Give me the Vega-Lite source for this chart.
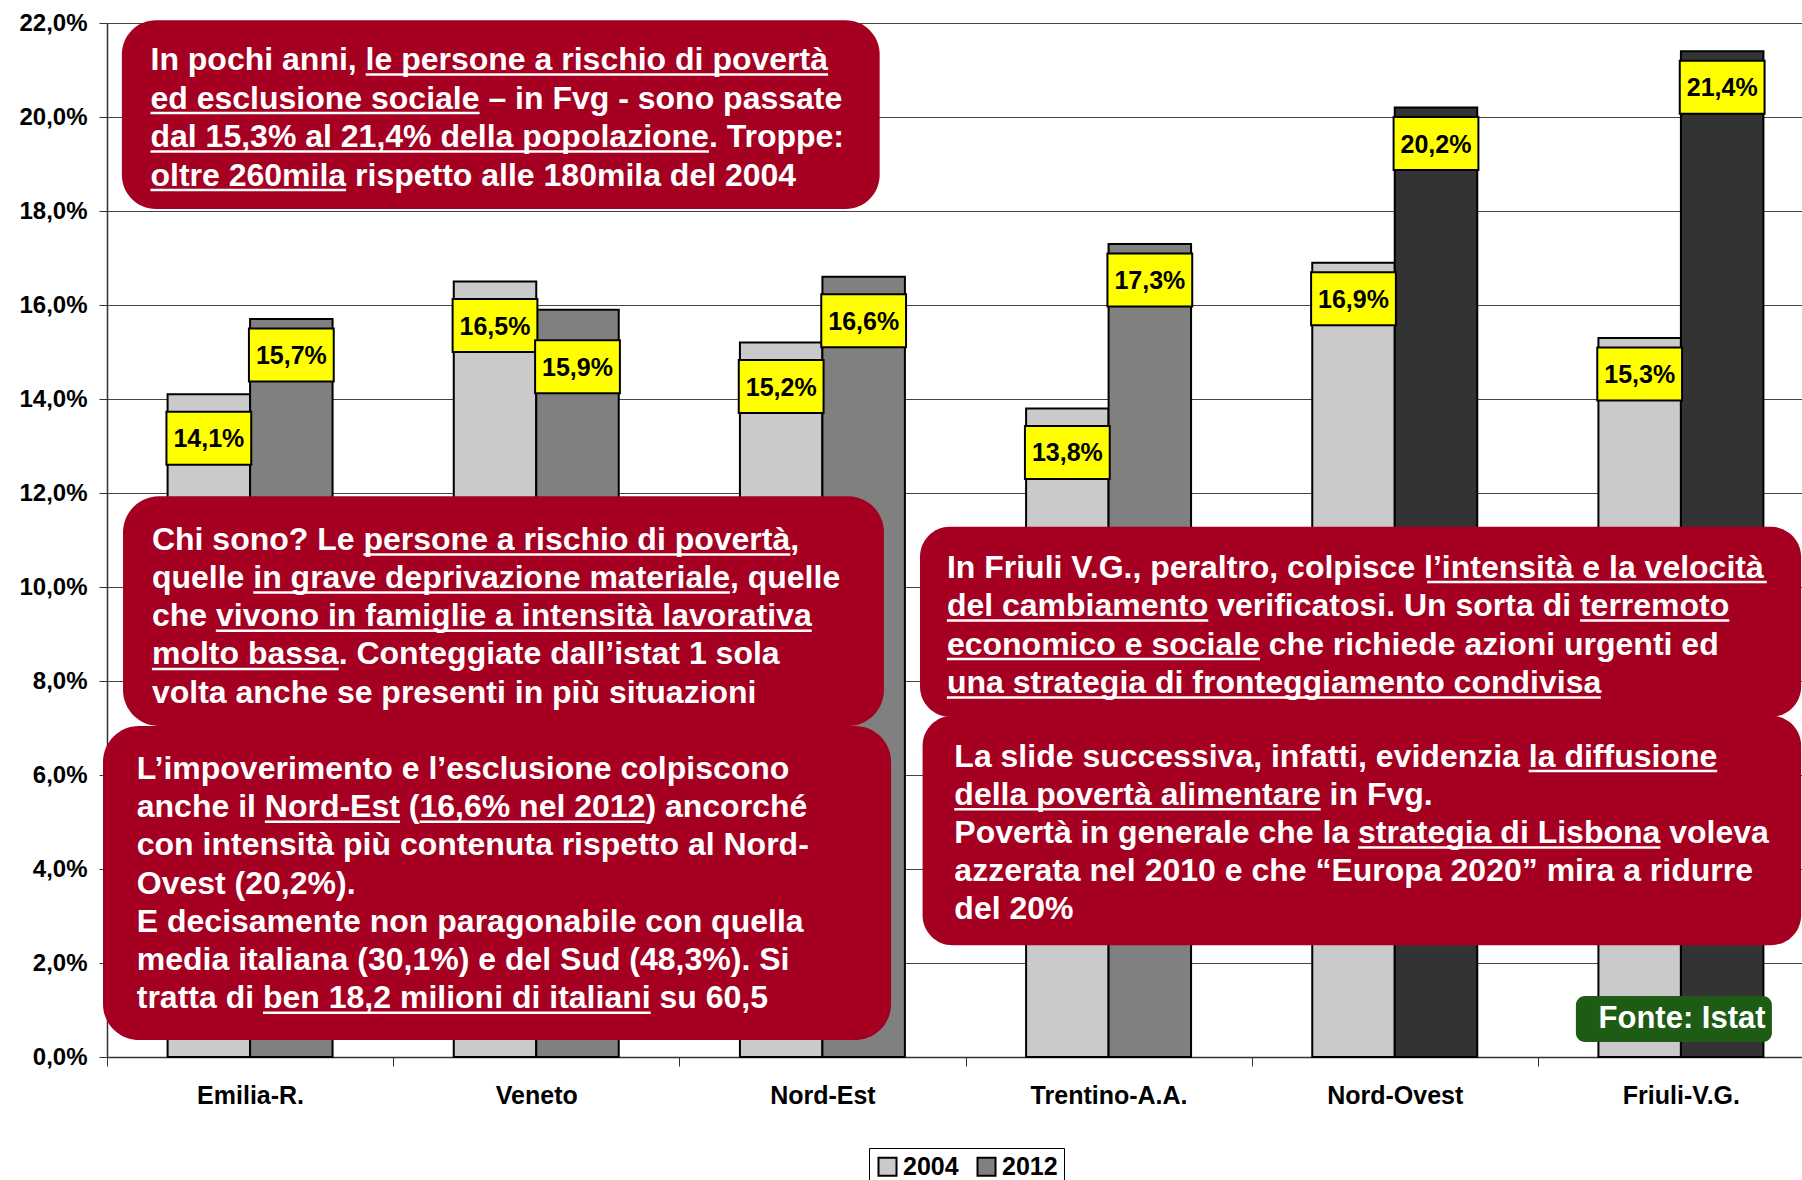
{
  "$schema": "https://vega.github.io/schema/vega-lite/v6.json",
  "width": 1695,
  "height": 1034,
  "autosize": {"type": "none"},
  "padding": {"left": 107, "top": 23, "right": 0, "bottom": 123},
  "background": "white",
  "config": {
    "locale": {"number": {"decimal": ",", "thousands": ".", "grouping": [3], "currency": ["€", ""]}},
    "font": "Liberation Sans",
    "view": {"stroke": null},
    "rule": {"color": "white", "strokeWidth": 2.5, "strokeCap": "butt"}
  },
  "datasets": {
    "bars": [
      {"region": "Emilia-R.", "year": "2004", "value": 0.141},
      {"region": "Emilia-R.", "year": "2012", "value": 0.157},
      {"region": "Veneto", "year": "2004", "value": 0.165},
      {"region": "Veneto", "year": "2012", "value": 0.159},
      {"region": "Nord-Est", "year": "2004", "value": 0.152},
      {"region": "Nord-Est", "year": "2012", "value": 0.166},
      {"region": "Trentino-A.A.", "year": "2004", "value": 0.138},
      {"region": "Trentino-A.A.", "year": "2012", "value": 0.173},
      {"region": "Nord-Ovest", "year": "2004", "value": 0.169},
      {"region": "Nord-Ovest", "year": "2012", "value": 0.202},
      {"region": "Friuli-V.G.", "year": "2004", "value": 0.153},
      {"region": "Friuli-V.G.", "year": "2012", "value": 0.214}
    ]
  },
  "layer": [
    {
      "data": {"name": "bars"},
      "encoding": {
        "x": {
          "field": "region", "type": "nominal",
          "sort": ["Emilia-R.", "Veneto", "Nord-Est", "Trentino-A.A.", "Nord-Ovest", "Friuli-V.G."],
          "scale": {"range": [0, 1717], "paddingInner": 0, "paddingOuter": 0},
          "axis": {"title": null, "labelFontSize": 25, "labelFontWeight": "bold", "labelColor": "black", "labelAngle": 0, "tickBand": "extent", "tickSize": 9, "tickColor": "#333333", "domainColor": "#333333", "domainWidth": 1.5, "labelPadding": 17, "grid": false}
        },
        "xOffset": {"field": "year", "type": "nominal", "scale": {"paddingOuter": 0.7345, "paddingInner": 0}},
        "y": {
          "field": "value", "type": "quantitative",
          "scale": {"domain": [0, 0.22], "nice": false},
          "axis": {"title": null, "format": ".1%", "values": [0, 0.02, 0.04, 0.06, 0.08, 0.1, 0.12, 0.14, 0.16, 0.18, 0.2, 0.22], "labelFontSize": 24, "labelFontWeight": "bold", "labelColor": "black", "tickSize": 8, "labelPadding": 12, "gridColor": "#444444", "gridWidth": 1.2, "domainColor": "#333333", "domainWidth": 1.5, "tickColor": "#333333"}
        }
      },
      "layer": [
        {
          "mark": {"type": "bar", "stroke": "black", "strokeWidth": 2},
          "encoding": {
            "fill": {
              "field": "year", "type": "nominal",
              "scale": {"domain": ["2004", "2012"], "range": ["#cacaca", "#808080"]},
              "legend": {"title": null, "orient": "none", "legendX": 762, "legendY": 1125, "direction": "horizontal", "strokeColor": "black", "fillColor": "white", "padding": 6, "symbolType": "square", "symbolSize": 324, "symbolStrokeColor": "black", "symbolStrokeWidth": 2, "labelFontSize": 25, "labelFontWeight": "bold", "labelColor": "black", "columnPadding": 14, "labelOffset": 3},
              "condition": {"test": "datum.year == '2012' && (datum.region == 'Nord-Ovest' || datum.region == 'Friuli-V.G.')", "value": "#333333"}
            }
          }
        },
        {
          "transform": [{"filter": "(datum.year == '2004' && datum.region != 'Nord-Ovest' && datum.region != 'Friuli-V.G.') || datum.region == 'Nord-Est'"}],
          "layer": [
            {"mark": {"type": "point", "shape": "M-1.6,-1L1.6,-1L1.6,1L-1.6,1Z", "size": 2809, "filled": true, "fill": "#ffff00", "stroke": "black", "strokeWidth": 2, "opacity": 1, "yOffset": 44}},
            {"mark": {"type": "text", "fontSize": 25, "fontWeight": "bold", "color": "black", "align": "center", "baseline": "middle", "yOffset": 45}, "encoding": {"text": {"field": "value", "type": "quantitative", "format": ".1%"}}}
          ]
        },
        {
          "transform": [{"filter": "!((datum.year == '2004' && datum.region != 'Nord-Ovest' && datum.region != 'Friuli-V.G.') || datum.region == 'Nord-Est') && !(datum.region == 'Veneto' && datum.year == '2012')"}],
          "layer": [
            {"mark": {"type": "point", "shape": "M-1.6,-1L1.6,-1L1.6,1L-1.6,1Z", "size": 2809, "filled": true, "fill": "#ffff00", "stroke": "black", "strokeWidth": 2, "opacity": 1, "yOffset": 36}},
            {"mark": {"type": "text", "fontSize": 25, "fontWeight": "bold", "color": "black", "align": "center", "baseline": "middle", "yOffset": 37}, "encoding": {"text": {"field": "value", "type": "quantitative", "format": ".1%"}}}
          ]
        },
        {
          "transform": [{"filter": "datum.region == 'Veneto' && datum.year == '2012'"}],
          "layer": [
            {"mark": {"type": "point", "shape": "M-1.6,-1L1.6,-1L1.6,1L-1.6,1Z", "size": 2809, "filled": true, "fill": "#ffff00", "stroke": "black", "strokeWidth": 2, "opacity": 1, "yOffset": 57}},
            {"mark": {"type": "text", "fontSize": 25, "fontWeight": "bold", "color": "black", "align": "center", "baseline": "middle", "yOffset": 58}, "encoding": {"text": {"field": "value", "type": "quantitative", "format": ".1%"}}}
          ]
        }
      ]
    },
    {
      "data": {"values": [{}]},
      "layer": [
        {
          "mark": {"type": "rect", "fill": "#a50021", "cornerRadius": 34},
          "encoding": {
            "x": {"datum": 0.052, "type": "quantitative", "scale": {"domain": [0, 6], "range": [0, 1717], "nice": false, "zero": false}, "axis": null},
            "x2": {"datum": 2.70},
            "y": {"datum": 0.2206, "type": "quantitative", "axis": null},
            "y2": {"datum": 0.1804}
          }
        },
        {
          "mark": {"type": "text", "fill": "white", "fontSize": 32, "fontWeight": "bold", "align": "left", "baseline": "alphabetic", "lineHeight": 38.5,
            "text": ["In pochi anni, le persone a rischio di povertà", "ed esclusione sociale – in Fvg - sono passate", "dal 15,3% al 21,4% della popolazione. Troppe:", "oltre 260mila rispetto alle 180mila del 2004"]},
          "encoding": {
            "x": {"datum": 0.152, "type": "quantitative", "axis": null},
            "y": {"datum": 0.21, "type": "quantitative", "axis": null}
          }
        },
        {"mark": "rule", "encoding": {"x": {"datum": 0.9040, "type": "quantitative", "axis": null}, "x2": {"datum": 2.5199}, "y": {"datum": 0.20904, "type": "quantitative", "axis": null}}},
        {"mark": "rule", "encoding": {"x": {"datum": 0.1520, "type": "quantitative", "axis": null}, "x2": {"datum": 1.3020}, "y": {"datum": 0.20085, "type": "quantitative", "axis": null}}},
        {"mark": "rule", "encoding": {"x": {"datum": 0.1520, "type": "quantitative", "axis": null}, "x2": {"datum": 2.1037}, "y": {"datum": 0.19266, "type": "quantitative", "axis": null}}},
        {"mark": "rule", "encoding": {"x": {"datum": 0.1520, "type": "quantitative", "axis": null}, "x2": {"datum": 0.8355}, "y": {"datum": 0.18447, "type": "quantitative", "axis": null}}},
        {
          "mark": {"type": "rect", "fill": "#a50021", "cornerRadius": 36},
          "encoding": {
            "x": {"datum": -0.014, "type": "quantitative", "axis": null},
            "x2": {"datum": 2.74},
            "y": {"datum": 0.0704, "type": "quantitative", "axis": null},
            "y2": {"datum": 0.0036}
          }
        },
        {
          "mark": {"type": "rect", "fill": "#a50021", "cornerRadius": 36},
          "encoding": {
            "x": {"datum": 0.056, "type": "quantitative", "axis": null},
            "x2": {"datum": 2.715},
            "y": {"datum": 0.1193, "type": "quantitative", "axis": null},
            "y2": {"datum": 0.0704}
          }
        },
        {
          "mark": {"type": "text", "fill": "white", "fontSize": 32, "fontWeight": "bold", "align": "left", "baseline": "alphabetic", "lineHeight": 38.2,
            "text": ["Chi sono? Le persone a rischio di povertà,", "quelle in grave deprivazione materiale, quelle", "che vivono in famiglie a intensità lavorativa", "molto bassa. Conteggiate dall’istat 1 sola", "volta anche se presenti in più situazioni"]},
          "encoding": {
            "x": {"datum": 0.157, "type": "quantitative", "axis": null},
            "y": {"datum": 0.1079, "type": "quantitative", "axis": null}
          }
        },
        {"mark": "rule", "encoding": {"x": {"datum": 0.8963, "type": "quantitative", "axis": null}, "x2": {"datum": 2.3878}, "y": {"datum": 0.10694, "type": "quantitative", "axis": null}}},
        {"mark": "rule", "encoding": {"x": {"datum": 0.5112, "type": "quantitative", "axis": null}, "x2": {"datum": 2.1767}, "y": {"datum": 0.09881, "type": "quantitative", "axis": null}}},
        {"mark": "rule", "encoding": {"x": {"datum": 0.3805, "type": "quantitative", "axis": null}, "x2": {"datum": 2.4625}, "y": {"datum": 0.09068, "type": "quantitative", "axis": null}}},
        {"mark": "rule", "encoding": {"x": {"datum": 0.1569, "type": "quantitative", "axis": null}, "x2": {"datum": 0.8093}, "y": {"datum": 0.08255, "type": "quantitative", "axis": null}}},
        {
          "mark": {"type": "text", "fill": "white", "fontSize": 32, "fontWeight": "bold", "align": "left", "baseline": "alphabetic", "lineHeight": 38.2,
            "text": ["L’impoverimento e l’esclusione colpiscono", "anche il Nord-Est (16,6% nel 2012) ancorché", "con intensità più contenuta rispetto al Nord-", "Ovest (20,2%).", "E decisamente non paragonabile con quella", "media italiana (30,1%) e del Sud (48,3%). Si", "tratta di ben 18,2 milioni di italiani su 60,5"]},
          "encoding": {
            "x": {"datum": 0.104, "type": "quantitative", "axis": null},
            "y": {"datum": 0.05915, "type": "quantitative", "axis": null}
          }
        },
        {"mark": "rule", "encoding": {"x": {"datum": 0.5518, "type": "quantitative", "axis": null}, "x2": {"datum": 1.0239}, "y": {"datum": 0.05006, "type": "quantitative", "axis": null}}},
        {"mark": "rule", "encoding": {"x": {"datum": 1.0924, "type": "quantitative", "axis": null}, "x2": {"datum": 1.8818}, "y": {"datum": 0.05006, "type": "quantitative", "axis": null}}},
        {"mark": "rule", "encoding": {"x": {"datum": 0.5451, "type": "quantitative", "axis": null}, "x2": {"datum": 1.9000}, "y": {"datum": 0.00943, "type": "quantitative", "axis": null}}},
        {
          "mark": {"type": "rect", "fill": "#a50021", "cornerRadius": 30},
          "encoding": {
            "x": {"datum": 2.841, "type": "quantitative", "axis": null},
            "x2": {"datum": 5.92},
            "y": {"datum": 0.1128, "type": "quantitative", "axis": null},
            "y2": {"datum": 0.0724}
          }
        },
        {
          "mark": {"type": "text", "fill": "white", "fontSize": 32, "fontWeight": "bold", "align": "left", "baseline": "alphabetic", "lineHeight": 38.5,
            "text": ["In Friuli V.G., peraltro, colpisce l’intensità e la velocità", "del cambiamento verificatosi. Un sorta di terremoto", "economico e sociale che richiede azioni urgenti ed", "una strategia di fronteggiamento condivisa"]},
          "encoding": {
            "x": {"datum": 2.935, "type": "quantitative", "axis": null},
            "y": {"datum": 0.1020, "type": "quantitative", "axis": null}
          }
        },
        {"mark": "rule", "encoding": {"x": {"datum": 4.6130, "type": "quantitative", "axis": null}, "x2": {"datum": 5.8001}, "y": {"datum": 0.10104, "type": "quantitative", "axis": null}}},
        {"mark": "rule", "encoding": {"x": {"datum": 2.9350, "type": "quantitative", "axis": null}, "x2": {"datum": 3.8484}, "y": {"datum": 0.09285, "type": "quantitative", "axis": null}}},
        {"mark": "rule", "encoding": {"x": {"datum": 5.1473, "type": "quantitative", "axis": null}, "x2": {"datum": 5.6691}, "y": {"datum": 0.09285, "type": "quantitative", "axis": null}}},
        {"mark": "rule", "encoding": {"x": {"datum": 2.9350, "type": "quantitative", "axis": null}, "x2": {"datum": 4.0288}, "y": {"datum": 0.08466, "type": "quantitative", "axis": null}}},
        {"mark": "rule", "encoding": {"x": {"datum": 2.9350, "type": "quantitative", "axis": null}, "x2": {"datum": 5.2200}, "y": {"datum": 0.07647, "type": "quantitative", "axis": null}}},
        {
          "mark": {"type": "rect", "fill": "#a50021", "cornerRadius": 30},
          "encoding": {
            "x": {"datum": 2.85, "type": "quantitative", "axis": null},
            "x2": {"datum": 5.92},
            "y": {"datum": 0.0726, "type": "quantitative", "axis": null},
            "y2": {"datum": 0.0238}
          }
        },
        {
          "mark": {"type": "text", "fill": "white", "fontSize": 32, "fontWeight": "bold", "align": "left", "baseline": "alphabetic", "lineHeight": 38.2,
            "text": ["La slide successiva, infatti, evidenzia la diffusione", "della povertà alimentare in Fvg.", "Povertà in generale che la strategia di Lisbona voleva", "azzerata nel 2010 e che “Europa 2020” mira a ridurre", "del 20%"]},
          "encoding": {
            "x": {"datum": 2.961, "type": "quantitative", "axis": null},
            "y": {"datum": 0.0618, "type": "quantitative", "axis": null}
          }
        },
        {"mark": "rule", "encoding": {"x": {"datum": 4.9680, "type": "quantitative", "axis": null}, "x2": {"datum": 5.6267}, "y": {"datum": 0.06085, "type": "quantitative", "axis": null}}},
        {"mark": "rule", "encoding": {"x": {"datum": 2.9608, "type": "quantitative", "axis": null}, "x2": {"datum": 4.2412}, "y": {"datum": 0.05272, "type": "quantitative", "axis": null}}},
        {"mark": "rule", "encoding": {"x": {"datum": 4.3715, "type": "quantitative", "axis": null}, "x2": {"datum": 5.4279}, "y": {"datum": 0.04460, "type": "quantitative", "axis": null}}},
        {
          "mark": {"type": "rect", "fill": "#1e5b14", "cornerRadius": 9},
          "encoding": {
            "x": {"datum": 5.133, "type": "quantitative", "axis": null},
            "x2": {"datum": 5.818},
            "y": {"datum": 0.0130, "type": "quantitative", "axis": null},
            "y2": {"datum": 0.0032}
          }
        },
        {
          "mark": {"type": "text", "fill": "white", "fontSize": 31, "fontWeight": "bold", "align": "center", "baseline": "middle", "text": "Fonte: Istat"},
          "encoding": {
            "x": {"datum": 5.504, "type": "quantitative", "axis": null},
            "y": {"datum": 0.0081, "type": "quantitative", "axis": null}
          }
        }
      ]
    }
  ],
  "resolve": {"scale": {"x": "independent"}, "axis": {"x": "independent", "y": "independent"}}
}
